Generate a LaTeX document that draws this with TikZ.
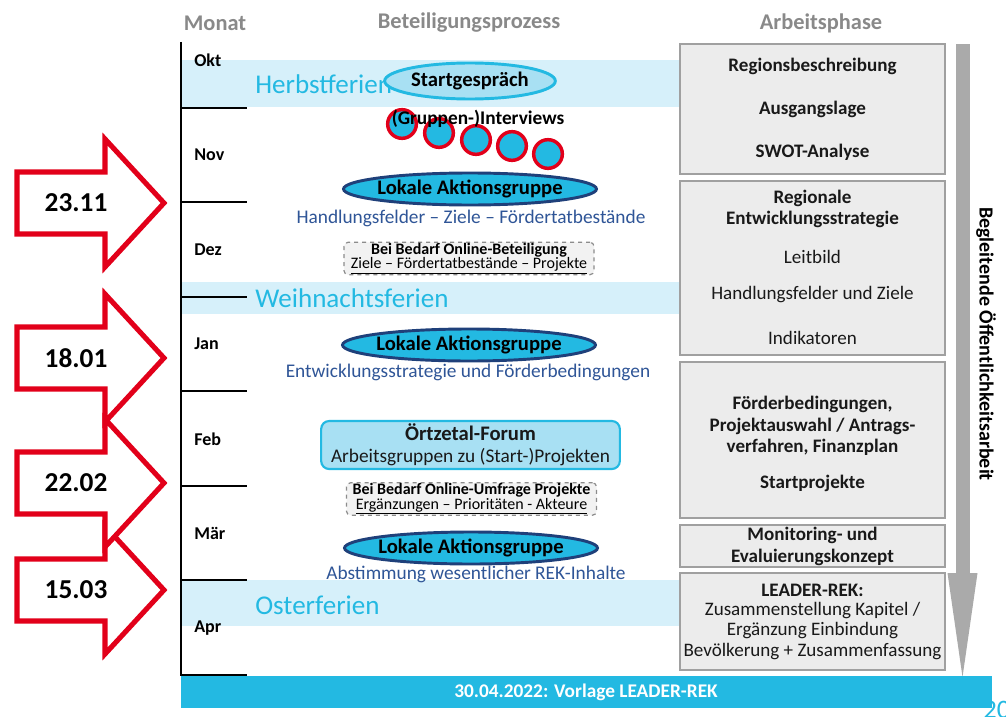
\documentclass[tikz,border=0pt]{standalone}
\usepackage{fontspec}
\setmainfont{Carlito}
\usetikzlibrary{shapes.geometric}

\definecolor{cyanA}{RGB}{35,185,226}
\definecolor{bandblue}{RGB}{214,240,250}
\definecolor{paleblue}{RGB}{168,224,243}
\definecolor{navy}{RGB}{31,64,122}
\definecolor{captionblue}{RGB}{47,85,151}
\definecolor{headgray}{RGB}{137,137,137}
\definecolor{boxfill}{RGB}{236,236,236}
\definecolor{boxline}{RGB}{160,160,160}
\definecolor{arrowgray}{RGB}{170,170,170}
\definecolor{markred}{RGB}{226,0,26}
\definecolor{dashfill}{RGB}{242,242,242}
\definecolor{darktext}{RGB}{25,25,25}

% red milestone arrow: name, centre y, date
\newcommand\datearrow[3]{%
  \draw[datearrow] (17,{#2-31}) -- (105,{#2-31}) -- (105,{#2-64}) -- (164,#2)
     -- (105,{#2+64}) -- (105,{#2+31}) -- (17,{#2+31}) -- cycle;
  \node[datelabel] (#1) at (76,#2) {#3};
}

\begin{document}
\begin{tikzpicture}[x=0.75pt,y=-0.75pt,
  hdr/.style={font=\fontsize{16.8}{19}\selectfont\bfseries, text=headgray, inner sep=0},
  month/.style={font=\fontsize{13.5}{16}\selectfont\bfseries, anchor=west, inner sep=0},
  holiday/.style={font=\fontsize{20.3}{24}\selectfont, text=cyanA, anchor=west, inner sep=0},
  axis/.style={line width=1.2pt, black},
  lag/.style={ellipse, draw=navy, fill=cyanA, line width=2.2pt,
    minimum width=189.75pt, minimum height=24pt, inner xsep=-3pt, inner ysep=0,
    font=\fontsize{15.5}{18}\selectfont\bfseries},
  caption/.style={font=\fontsize{14.5}{17}\selectfont, text=captionblue, inner sep=0},
  interview/.style={circle, draw=markred, fill=cyanA, line width=2.6pt,
    minimum size=21.5pt, inner sep=0},
  onlinebox/.style={draw=black!45, dashed, line width=0.9pt, fill=dashfill,
    rounded corners=3pt, minimum width=187.5pt, minimum height=23.5pt, inner sep=0.5pt,
    align=center, font=\fontsize{12}{10.8}\selectfont},
  phasebox/.style={draw=boxline, fill=boxfill, line width=1.5pt,
    minimum width=198.75pt, inner sep=0},
  phasebold/.style={font=\fontsize{14.3}{16.2}\selectfont\bfseries, text=darktext,
    align=center, inner sep=0},
  phasetext/.style={font=\fontsize{14.3}{15.4}\selectfont, text=darktext,
    align=center, inner sep=0},
  datearrow/.style={draw=markred, fill=white, line width=3.8pt, miter limit=10},
  datelabel/.style={font=\fontsize{20.5}{24}\selectfont\bfseries, inner sep=0},
]
\path[use as bounding box] (0,0) rectangle (1006,717);
\clip (0,0) rectangle (1006,717);
\fill[white] (0,0) rectangle (1006,717);

% column headings
\node[hdr] (hMonat) at (215,23) {Monat};
\node[hdr] (hProzess) at (469,23) {Beteiligungsprozess};
\node[hdr] (hPhase) at (821,23) {Arbeitsphase};

% school holiday bands
\fill[bandblue] (181,60) rectangle (690,107);
\fill[bandblue] (181,282) rectangle (690,314);
\fill[bandblue] (181,580) rectangle (690,626);

% month axis
\draw[axis] (181,42) -- (181,676);
\foreach \y in {108,202,297,391,486,580,675}
  \draw[axis] (181,\y) -- (247,\y);

\node[month] (mOkt) at (194,60) {Okt};
\node[month] (mNov) at (194,155) {Nov};
\node[month] (mDez) at (194,250) {Dez};
\node[month] (mJan) at (194,344) {Jan};
\node[month] (mFeb) at (194,439) {Feb};
\node[month] (mMar) at (194,533) {Mär};
\node[month] (mApr) at (194,628) {Apr};

\node[holiday] (herbst) at (255,84) {Herbstferien};
\node[holiday] (weihnacht) at (255,298) {Weihnachtsferien};
\node[holiday] (ostern) at (255,605) {Osterferien};

% participation process
\node[ellipse, draw=cyanA, fill=paleblue, line width=2.2pt, minimum width=128pt,
  minimum height=27pt, inner sep=0, font=\fontsize{15.5}{18}\selectfont\bfseries]
  (start) at (470,81) {Startgespräch};

\foreach \i/\x/\y in {1/402/124,2/439/133,3/476/140,4/512/146,5/548/154}
  \node[interview] (iv\i) at (\x,\y) {};
\node[font=\fontsize{14.5}{17}\selectfont\bfseries, inner sep=0] (ivtext) at (478,119)
  {(Gruppen-)Interviews};

\node[lag] (lag1) at (470,189) {Lokale Aktionsgruppe};
\node[caption] (cap1) at (471,218) {Handlungsfelder – Ziele – Fördertatbestände};

\node[onlinebox] (online1) at (469,258.5)
  {\textbf{Bei Bedarf Online-Beteiligung}\\\underline{Ziele – Fördertatbestände – Projekte}};

\node[lag] (lag2) at (469,345) {Lokale Aktionsgruppe};
\node[caption] (cap2) at (468,372) {Entwicklungsstrategie und Förderbedingungen};

\node[draw=cyanA, fill=paleblue, line width=1.6pt, rounded corners=6pt,
  minimum width=224pt, minimum height=36pt, inner sep=0, align=center,
  text=darktext, font=\fontsize{14.5}{16.5}\selectfont] (forum) at (470.5,445)
  {{\fontsize{15.5}{16.5}\selectfont\bfseries Örtzetal-Forum}\\Arbeitsgruppen zu (Start-)Projekten};

\node[onlinebox] (online2) at (471.5,499)
  {\textbf{Bei Bedarf Online-Umfrage Projekte}\\\underline{Ergänzungen – Prioritäten - Akteure}};

\node[lag] (lag3) at (471,548) {Lokale Aktionsgruppe};
\node[caption] (cap3) at (476,574) {Abstimmung wesentlicher REK-Inhalte};

% work phases
\node[phasebox, minimum height=97.5pt] (ph1) at (812.5,109) {};
\node[phasebold] (ph1a) at (812.5,66) {Regionsbeschreibung};
\node[phasebold] (ph1b) at (812.5,109) {Ausgangslage};
\node[phasebold] (ph1c) at (812.5,152) {SWOT-Analyse};

\node[phasebox, minimum height=130.5pt] (ph2) at (812.5,268) {};
\node[phasebold] (ph2a) at (812.5,209) {Regionale\\Entwicklungsstrategie};
\node[phasetext] (ph2b) at (812.5,257) {Leitbild};
\node[phasetext] (ph2c) at (812.5,295) {Handlungsfelder und Ziele};
\node[phasetext] (ph2d) at (812.5,338) {Indikatoren};

\node[phasebox, minimum height=117pt] (ph3) at (812.5,440) {};
\node[phasebold] (ph3a) at (812.5,426) {Förderbedingungen,\\Projektauswahl / Antrags-\\verfahren, Finanzplan};
\node[phasebold] (ph3b) at (812.5,483) {Startprojekte};

\node[phasebox, minimum height=31.5pt] (ph4) at (812.5,546) {};
\node[phasebold] (ph4a) at (812.5,546.5) {Monitoring- und\\Evaluierungskonzept};

\node[phasebox, minimum height=72.75pt] (ph5) at (812.5,621.5) {};
\node[phasebold] (ph5a) at (812.5,590) {LEADER-REK:};
\node[phasetext] (ph5b) at (812.5,631) {Zusammenstellung Kapitel /\\Ergänzung Einbindung\\Bevölkerung + Zusammenfassung};

% accompanying public relations arrow
\fill[arrowgray] (956,44) rectangle (970,574);
\fill[arrowgray] (947.5,573) -- (977.5,573) -- (962.5,677) -- cycle;
\node[rotate=-90, font=\fontsize{15}{17}\selectfont\bfseries, inner sep=0] (pr)
  at (986,344) {Begleitende Öffentlichkeitsarbeit};

% deadline bar
\node[fill=cyanA, minimum width=608.25pt, minimum height=24pt, inner sep=0,
  text=white, font=\fontsize{14.5}{16}\selectfont\bfseries] (deadline) at (586,692)
  {30.04.2022: Vorlage LEADER-REK};
\node[anchor=north west, inner sep=0, text=cyanA, font=\fontsize{20}{24}\selectfont]
  (pagenum) at (983,701) {20};

% milestone dates
\datearrow{d4}{590}{15.03}
\datearrow{d3}{483}{22.02}
\datearrow{d2}{358}{18.01}
\datearrow{d1}{203}{23.11}
\end{tikzpicture}
\end{document}
